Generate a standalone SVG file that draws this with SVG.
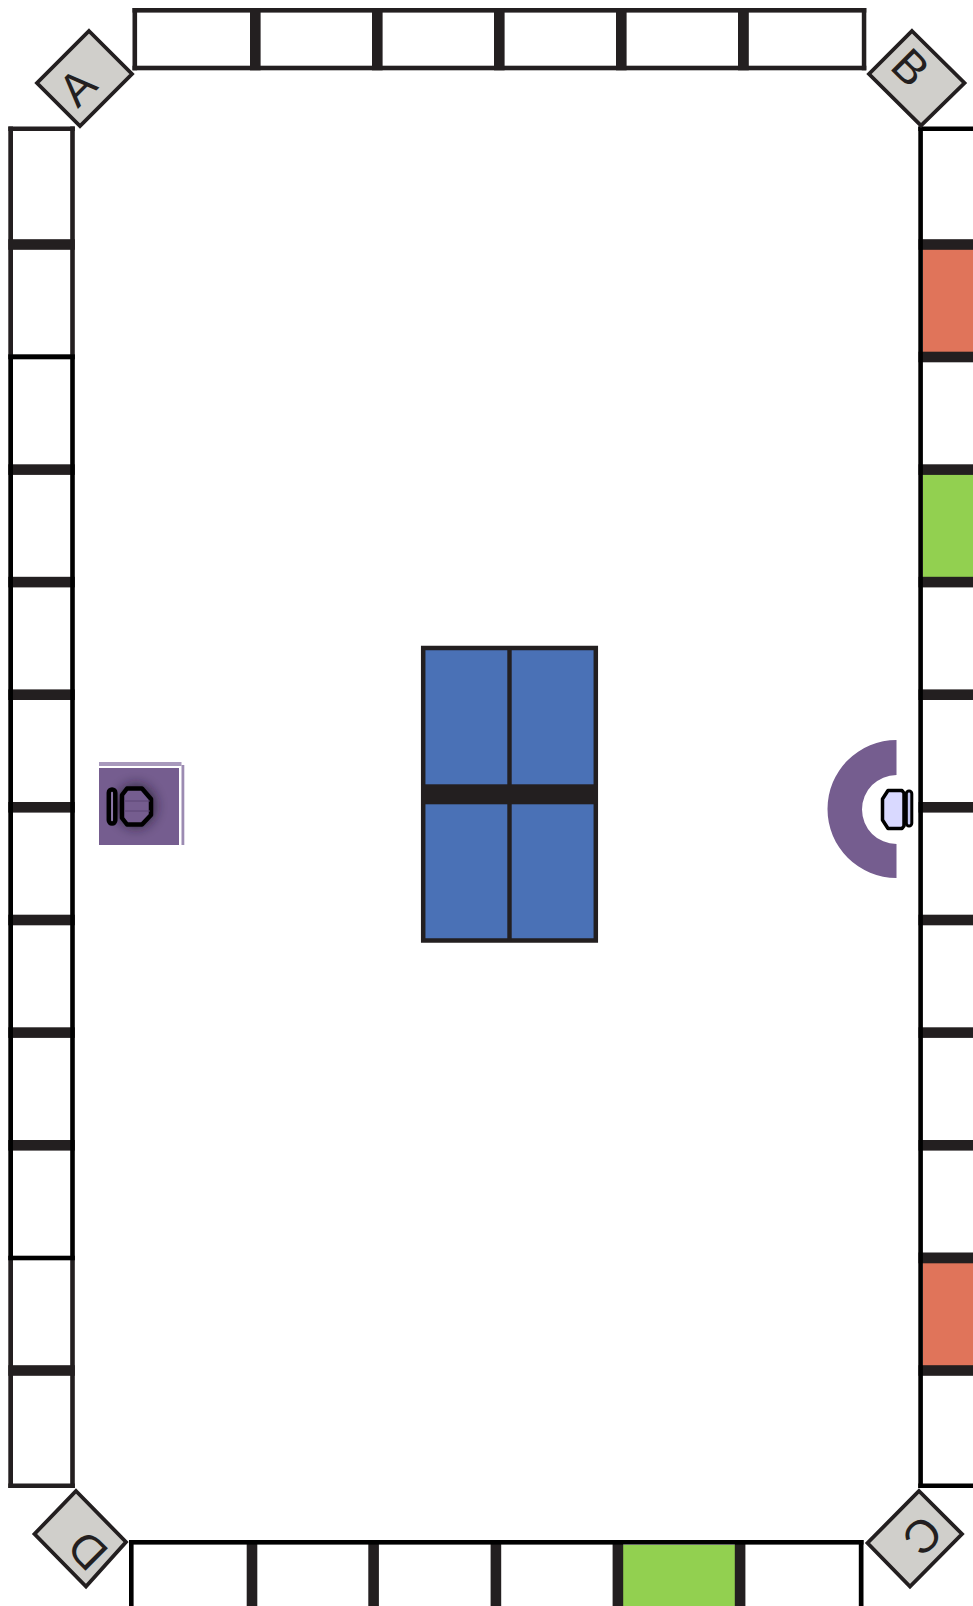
<svg xmlns="http://www.w3.org/2000/svg" width="973" height="1606" viewBox="0 0 973 1606">
<style>
.d{fill:#231f20}.k{fill:#000}
.corner{fill:#d0cfcb;stroke:#231f20;stroke-width:3.800;stroke-linejoin:miter}
.lab{font-family:"Liberation Sans",Arial,sans-serif;font-size:46px;fill:#231f20;text-anchor:middle}
.or{fill:#e0745a}.gr{fill:#92d050}.bl{fill:#4a71b6}.pu{fill:#755d8f}
.ic{stroke:#000;stroke-linejoin:round}
</style>
<defs><filter id="blur" x="-50%" y="-50%" width="200%" height="200%"><feGaussianBlur stdDeviation="6"/></filter>
<clipPath id="sq"><rect x="99" y="768" width="80" height="77"/></clipPath></defs>
<rect width="973" height="1606" fill="#fff"/>

<g id="top-row" class="d">
<rect x="132.500" y="8" width="733.800" height="4.600"/>
<rect x="132.500" y="65.700" width="733.800" height="4.600"/>
<rect x="132.500" y="8" width="4.600" height="62.300"/>
<rect x="861.800" y="8" width="4.500" height="62.300"/>
<rect x="250" y="8" width="10.600" height="62.300"/>
<rect x="372" y="8" width="10.600" height="62.300"/>
<rect x="494" y="8" width="10.600" height="62.300"/>
<rect x="616" y="8" width="10.600" height="62.300"/>
<rect x="738" y="8" width="10.800" height="62.300"/>
</g>

<g id="left-column">
<g class="d">
<rect x="8.300" y="126.500" width="66.500" height="4.500"/>
<rect x="8.300" y="126.500" width="4.700" height="228"/>
<rect x="70.200" y="126.500" width="4.600" height="228"/>
<rect x="8.300" y="1259" width="4.700" height="229"/>
<rect x="70.200" y="1259" width="4.600" height="229"/>
<rect x="8.300" y="1483.500" width="66.500" height="4.500"/>
<rect x="8.300" y="239.200" width="66.500" height="10.600"/>
<rect x="8.300" y="464.300" width="66.500" height="10.600"/>
<rect x="8.300" y="576.800" width="66.500" height="10.600"/>
<rect x="8.300" y="689.400" width="66.500" height="10.600"/>
<rect x="8.300" y="802" width="66.500" height="10.600"/>
<rect x="8.300" y="914.700" width="66.500" height="10.600"/>
<rect x="8.300" y="1027.300" width="66.500" height="10.600"/>
<rect x="8.300" y="1140" width="66.500" height="10.600"/>
<rect x="8.300" y="1365.200" width="66.500" height="10.600"/>
</g>
<g class="k">
<rect x="8.300" y="354.300" width="66.500" height="5"/>
<rect x="8.300" y="1255.700" width="66.500" height="4.600"/>
<rect x="8.300" y="354.300" width="4.700" height="905"/>
<rect x="70.200" y="354.300" width="4.600" height="905"/>
</g>
</g>

<g id="right-column">
<rect class="or" x="923" y="244" width="50" height="112"/>
<rect class="gr" x="923" y="469" width="50" height="113"/>
<rect class="or" x="923" y="1258" width="50" height="112"/>
<g class="d">
<rect x="918.500" y="239.200" width="54.500" height="10.600"/>
<rect x="918.500" y="351.700" width="54.500" height="10.600"/>
<rect x="918.500" y="464.300" width="54.500" height="10.600"/>
<rect x="918.500" y="576.800" width="54.500" height="10.600"/>
<rect x="918.500" y="689.400" width="54.500" height="10.600"/>
<rect x="918.500" y="802" width="54.500" height="10.600"/>
<rect x="918.500" y="914.700" width="54.500" height="10.600"/>
<rect x="918.500" y="1027.300" width="54.500" height="10.600"/>
<rect x="918.500" y="1140" width="54.500" height="10.600"/>
<rect x="918.500" y="1252.500" width="54.500" height="10.800"/>
<rect x="918.500" y="1365.200" width="54.500" height="10.600"/>
</g>
<g class="k">
<rect x="918.300" y="126.500" width="54.700" height="4.500"/>
<rect x="918.300" y="1483.500" width="54.700" height="4.500"/>
<rect x="918.300" y="126.500" width="4.600" height="1361.500"/>
</g>
</g>

<g id="bottom-row">
<rect class="gr" x="623" y="1545" width="112" height="61"/>
<g class="d">
<rect x="246.700" y="1540" width="10.600" height="66"/>
<rect x="368.300" y="1540" width="10.600" height="66"/>
<rect x="490.600" y="1540" width="10.600" height="66"/>
<rect x="612.600" y="1540" width="10.600" height="66"/>
<rect x="734.800" y="1540" width="10.600" height="66"/>
</g>
<g class="k">
<rect x="129" y="1540" width="734.500" height="4.600"/>
<rect x="129" y="1540" width="4.600" height="66"/>
<rect x="858.800" y="1540" width="4.700" height="66"/>
</g>
</g>

<g id="corner-a"><polygon class="corner" points="89,31 132,74 80,126 37,83"/><text class="lab" transform="translate(77,86.500) rotate(-45)" y="16.500">A</text></g>
<g id="corner-b"><polygon class="corner" points="912,31 964.500,83 921,125.500 869,74"/><text class="lab" transform="translate(911,67) rotate(45)" y="16.500">B</text></g>
<g id="corner-c"><polygon class="corner" points="919,1491 962,1534 910,1586.500 867.500,1543"/><text class="lab" transform="translate(923,1536) rotate(135)" y="16.500">C</text></g>
<g id="corner-d"><polygon class="corner" points="76,1491 126,1542 86,1586.500 34.500,1534"/><text class="lab" transform="translate(87,1551) rotate(-135)" y="16.500">D</text></g>

<g id="table">
<rect class="bl" x="423.200" y="648" width="172.600" height="292.500" stroke="#231f20" stroke-width="4.500"/>
<rect class="d" x="507.300" y="648" width="4.400" height="292.500"/>
<rect class="d" x="421" y="784.300" width="177" height="20"/>
</g>

<g id="seat-left">
<rect class="pu" x="99" y="768" width="80" height="77"/>
<rect x="99" y="762" width="82.500" height="4" fill="#a899bc"/>
<rect x="181.500" y="765" width="2.800" height="80" fill="#9c8bb2"/>
<ellipse cx="136" cy="806" rx="20" ry="22" fill="#1e1428" opacity=".7" filter="url(#blur)" clip-path="url(#sq)"/>
<rect class="ic" x="108.800" y="789.500" width="6.500" height="34" rx="3.200" fill="#8c78a8" stroke-width="4.500"/>
<path class="ic" d="M127 788.500H142L151 799V815L142 824.500H127L122 818V795Z" fill="#755d8f" stroke-width="4.500"/>
<path d="M124 801H150M124 811H150" stroke="#5c4675" stroke-width="1" fill="none"/>
</g>

<g id="seat-right">
<path class="pu" d="M896.500 740A69 69 0 0 0 896.500 878V844A34.500 34.500 0 0 1 896.500 775Z"/>
<path class="ic" d="M888 790.500H902L904 793V826L902 828.500H888L882.500 820V799Z" fill="#d9d9ff" stroke-width="3.500"/>
<rect class="ic" x="906.300" y="791" width="5.500" height="35" rx="2.700" fill="#c5c8f2" stroke-width="3"/>
</g>
</svg>
